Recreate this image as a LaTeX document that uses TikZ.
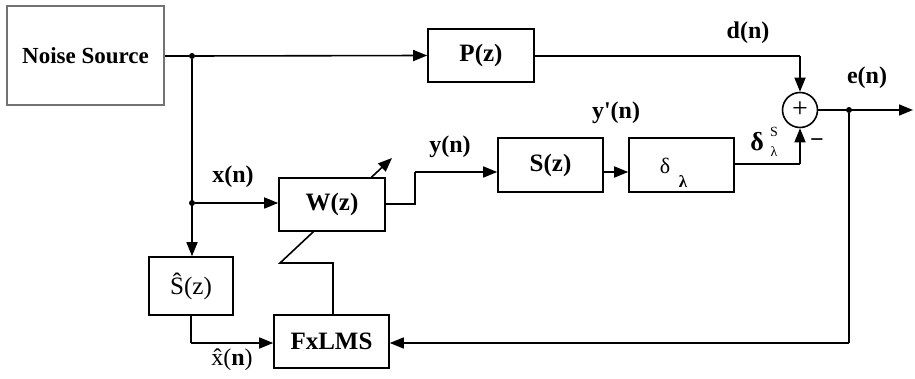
\documentclass[tikz,border=0pt]{standalone}
\usepackage{fontspec}
\setmainfont{Liberation Serif}
\usetikzlibrary{arrows.meta,backgrounds}
\begin{document}
\begin{tikzpicture}[x=1pt,y=1pt,
  blk/.style={draw,line width=1.6pt,fill=white,minimum width=#1,inner sep=0pt},
  bigf/.style={font=\fontsize{25}{28}\selectfont\bfseries},
  lbl/.style={font=\fontsize{24}{28}\selectfont\bfseries,inner sep=0pt},
  conn/.style={line width=1.6pt},
  arr/.style={line width=1.6pt,-{Triangle[length=14pt,width=11pt]}},
  dot/.style={circle,fill,inner sep=0pt,minimum size=6pt}]
\useasboundingbox (0,0) rectangle (915,-379);
% blocks
\node[draw=black!55,line width=2.4pt,minimum width=157pt,minimum height=99pt,inner sep=0pt,font=\fontsize{23}{26}\selectfont\bfseries] (ns) at (85.5,-55.5) {Noise Source};
\node[blk=106pt,minimum height=53pt,bigf] (P) at (481,-55.5) {P(z)};
\node[blk=105pt,minimum height=54pt,bigf] (S) at (550.5,-165) {S(z)};
\node[blk=105pt,minimum height=54pt] (dl) at (681.5,-165) {};
\node[font=\fontsize{22}{24}\selectfont,inner sep=0pt] (dlt) at (665,-166) {δ};
\node[font=\fontsize{17}{18}\selectfont\bfseries,inner sep=0pt] (dls) at (683,-182) {λ};
\node[circle,draw,line width=1.6pt,minimum size=35pt,inner sep=0pt,font=\fontsize{28}{28}\selectfont] (sum) at (800,-110) {+};
\node[blk=106pt,minimum height=53pt,bigf] (W) at (332,-204.5) {W(z)};
\node[blk=84pt,minimum height=58pt,font=\fontsize{25}{28}\selectfont] (Sh) at (191,-286) {\^{S}(z)};
\node[blk=115pt,minimum height=53pt,bigf] (F) at (331.5,-341.5) {FxLMS};
% junctions and corners
\node[dot] (j1) at (192,-56) {};
\node[dot] (j2) at (192,-203) {};
\node[dot] (j3) at (849,-110) {};
\coordinate (wo1) at (415,-204);
\coordinate (wo2) at (415,-172);
\coordinate (dc1) at (800,-56);
\coordinate (ec1) at (800,-164);
\coordinate (out) at (913,-110);
\coordinate (fb1) at (849,-343);
\coordinate (sh1) at (191,-343);
\coordinate (ad1) at (333,-263);
\coordinate (ad2) at (280,-263);
\coordinate (ad3) at (392,-158);
% connectors
\draw[conn] (ns.east|-j1) -- (j1);
\draw[arr] (j1) -- (P.west);
\draw[arr] (j1) -- (Sh.north-|j1);
\draw[arr] (j2) -- (W.west|-j2);
\draw[conn] (W.east|-wo1) -- (wo1) -- (wo2);
\draw[arr] (wo2) -- (S.west|-wo2);
\draw[arr] (S.east|-wo2) -- (dl.west|-wo2);
\draw[conn] (P.east|-dc1) -- (dc1);
\draw[arr] (dc1) -- (sum.north);
\draw[conn] (dl.east|-ec1) -- (ec1);
\draw[arr] (ec1) -- (sum.south);
\draw[arr] (sum.east) -- (out);
\draw[conn] (j3) -- (fb1);
\draw[arr] (fb1) -- (F.east|-fb1);
\draw[conn] (Sh.south-|sh1) -- (sh1);
\draw[arr] (sh1) -- (F.west|-sh1);
\begin{scope}[on background layer]
\draw[arr] (F.north-|ad1) -- (ad1) -- (ad2) -- (ad3);
\end{scope}
% labels
\node[lbl] (ldn) at (748,-33) {d(n)};
\node[lbl] (len) at (867,-78) {e(n)};
\node[lbl] (lyp) at (616,-113) {y\textquotesingle(n)};
\node[lbl] (lyn) at (450,-147) {y(n)};
\node[lbl] (lxn) at (233,-177) {x(n)};
\node[inner sep=0pt,font=\fontsize{24}{28}\selectfont] (lxh) at (232,-360) {\^{x}(\textbf{n})};
\node[inner sep=0pt,font=\fontsize{26}{28}\selectfont\bfseries] (lds) at (757,-142) {δ};
\node[inner sep=0pt,font=\fontsize{14}{14}\selectfont] (ldss) at (774,-132) {S};
\node[inner sep=0pt,font=\fontsize{14}{14}\selectfont] (ldsl) at (774,-152) {λ};
\node[inner sep=0pt,font=\fontsize{24}{24}\selectfont\bfseries] (lmin) at (817,-143) {−};
\end{tikzpicture}
\end{document}
